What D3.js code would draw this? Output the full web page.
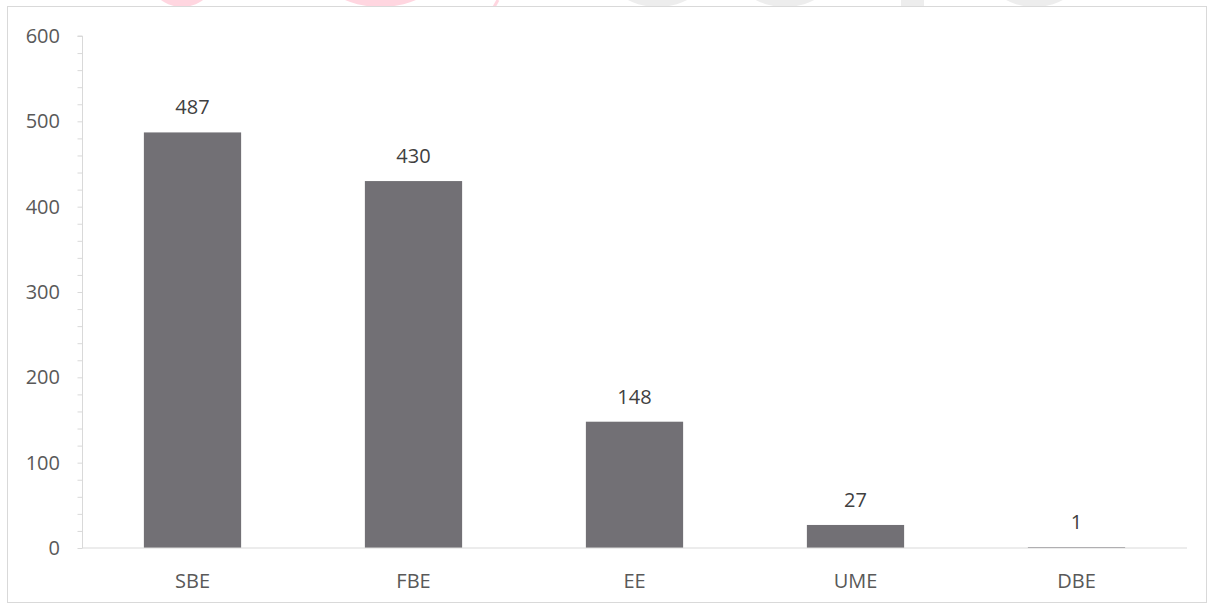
<!DOCTYPE html>
<html><head><meta charset="utf-8">
<script src="https://cdn.jsdelivr.net/npm/d3@7"></script>
<style>body{margin:0;background:#fff;}svg{display:block;}</style>
</head><body>
<svg id="c" width="1213" height="607"></svg>
<script>
const categories = ["SBE", "FBE", "EE", "UME", "DBE"];
const values = [487, 430, 148, 27, 1];
const yTicks = [0, 100, 200, 300, 400, 500, 600];

const svg = d3.select("#c");
const font = "'Open Sans', 'Noto Sans', sans-serif";
const textColor = "#595959";

// faint watermark remnants at the top edge
const wm = [
  {x:150,w:64,c:"#ffd6e0"},{x:324,w:113,c:"#ffd6e0"},
  {x:611,w:93,c:"#ededed"},{x:739,w:92,c:"#ededed"},{x:990,w:89,c:"#ededed"}
];
svg.selectAll("ellipse.wm").data(wm).enter().append("ellipse")
  .attr("cx", d=>d.x + d.w/2).attr("cy", -30).attr("rx", d=>d.w/2 + 4).attr("ry", 37)
  .attr("fill", d=>d.c);
svg.append("rect").attr("x", 901).attr("y", 0).attr("width", 23).attr("height", 7).attr("fill", "#ededed");
svg.append("line").attr("x1", 498).attr("y1", 0).attr("x2", 494).attr("y2", 7)
  .attr("stroke", "#ffd6e0").attr("stroke-width", 3);

// chart border
svg.append("rect").attr("x", 7.5).attr("y", 6.5).attr("width", 1199).attr("height", 596)
  .attr("fill", "#fff").attr("stroke", "#d9d9d9").attr("stroke-width", 1);

const m = {left: 82, right: 1187, top: 36, bottom: 548};
const x = d3.scaleBand().domain(categories).range([m.left, m.right]).padding(0);
const y = d3.scaleLinear().domain([0, 600]).range([m.bottom, m.top]);
const barW = x.bandwidth() * 0.44;

// bars
svg.append("g").selectAll("rect").data(values).enter().append("rect")
  .attr("x", (d, i) => x(categories[i]) + x.bandwidth() / 2 - barW / 2)
  .attr("y", d => y(d)).attr("width", barW).attr("height", d => y(0) - y(d))
  .attr("fill", "#727075");

// y axis with minor ticks
const yAxisG = svg.append("g").attr("transform", `translate(${m.left + 0.5},0)`);
yAxisG.call(d3.axisLeft(y).tickValues(d3.range(0, 601, 20)).tickSize(5).tickFormat(""));
yAxisG.select(".domain").attr("stroke", "#d9d9d9").attr("d", `M-5,${m.top}H0V${m.bottom}`);
yAxisG.selectAll(".tick line").attr("stroke", "#d9d9d9");
svg.append("g").selectAll("text").data(yTicks).enter().append("text")
  .attr("x", 60).attr("y", d => y(d)).attr("dy", "0.35em")
  .attr("text-anchor", "end").attr("font-family", font).attr("font-size", 20)
  .attr("fill", textColor).text(d => d);

// x axis line (drawn over the bars)
svg.append("line").attr("x1", m.left).attr("x2", m.right)
  .attr("y1", m.bottom).attr("y2", m.bottom)
  .attr("stroke", "#d9d9d9").attr("stroke-width", 1.2);

// value labels
svg.append("g").selectAll("text").data(values).enter().append("text")
  .attr("x", (d, i) => x(categories[i]) + x.bandwidth() / 2)
  .attr("y", d => y(d) - 25).attr("dy", "0.35em")
  .attr("text-anchor", "middle").attr("font-family", font).attr("font-size", 20)
  .attr("fill", "#404040").text(d => d);

// category labels
svg.append("g").selectAll("text").data(categories).enter().append("text")
  .attr("x", d => x(d) + x.bandwidth() / 2).attr("y", 581).attr("dy", "0.35em")
  .attr("text-anchor", "middle").attr("font-family", font).attr("font-size", 20)
  .attr("fill", textColor).text(d => d);
</script>
</body></html>
